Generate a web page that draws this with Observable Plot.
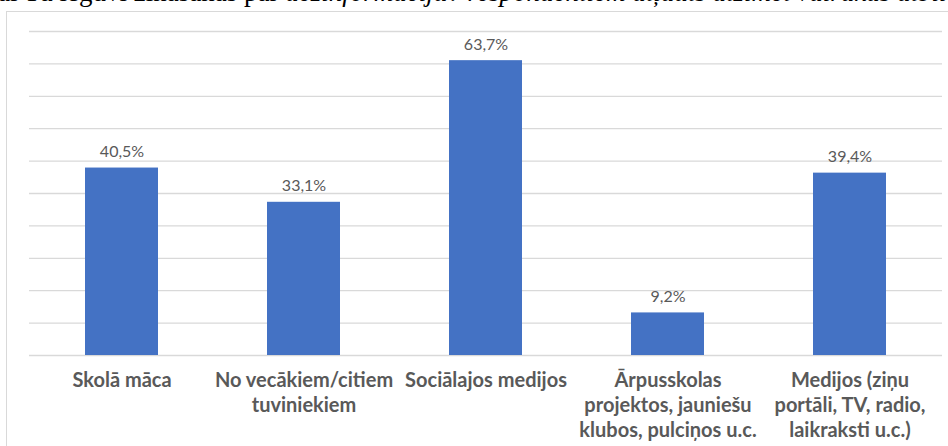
<!DOCTYPE html>
<html>
<head>
<meta charset="utf-8">
<script src="https://cdn.jsdelivr.net/npm/d3@7"></script>
<script src="https://cdn.jsdelivr.net/npm/@observablehq/plot@0.6"></script>
<style>
  html, body { margin: 0; padding: 0; background: #fff; width: 948px; height: 446px; overflow: hidden; }
  #wrap { position: relative; width: 948px; height: 446px; }
  #title { position: absolute; left: -2px; top: -24px; white-space: nowrap; font-family: "Liberation Serif", "DejaVu Serif", serif; font-size: 27px; line-height: 1.2; color: #000; }
  #frame { position: absolute; left: 6px; top: 11px; width: 1000px; height: 500px; border: 1px solid #d9d9d9; box-sizing: border-box; background: #fff; }
  #chart { position: absolute; left: 0; top: 0; }
</style>
</head>
<body>
<div id="wrap">
  <div id="title">ai Tu ieguvi zināšanas par <i>dezinformāciju? respondentiem atļauts atzīmēt vairākas atbildes</i></div>
  <div id="frame"></div>
  <div id="chart"></div>
</div>
<script>
const categories = [
  "Skolā māca",
  "No vecākiem/citiem\ntuviniekiem",
  "Sociālajos medijos",
  "Ārpusskolas\nprojektos, jauniešu\nklubos, pulciņos u.c.",
  "Medijos (ziņu\nportāli, TV, radio,\nlaikraksti u.c.)"
];
const values = [40.5, 33.1, 63.7, 9.2, 39.4];
const valueLabels = ["40,5%", "33,1%", "63,7%", "9,2%", "39,4%"];
const gridTicks = [0, 7, 14, 21, 28, 35, 42, 49, 56, 63, 70];

const data = categories.map((c, i) => ({cat: c, value: values[i], label: valueLabels[i]}));

const chart = Plot.plot({
  width: 948,
  height: 446,
  marginLeft: 29,
  marginRight: 6,
  marginTop: 31,
  marginBottom: 91,
  x: {domain: categories, paddingInner: 0.6, paddingOuter: 0.3, axis: null},
  y: {domain: [0, 70], axis: null},
  style: {background: "transparent", overflow: "visible"},
  marks: [
    Plot.ruleY(gridTicks, {stroke: "#d9d9d9", strokeWidth: 1.3}),
    Plot.barY(data, {x: "cat", y: "value", fill: "#4472c4"}),
    Plot.text(data, {x: "cat", y: "value", text: "label", dy: -16, fill: "#595959", fontSize: 16, fontFamily: "Lato, 'Open Sans', sans-serif"}),
    Plot.text(data, {x: "cat", y: 0, text: "cat", lineAnchor: "top", dy: 14, lineHeight: 1.25, fill: "#595959", fontSize: 20, fontWeight: "bold", fontFamily: "Lato, 'Open Sans', sans-serif"})
  ]
});
document.getElementById("chart").appendChild(chart);
</script>
</body>
</html>
